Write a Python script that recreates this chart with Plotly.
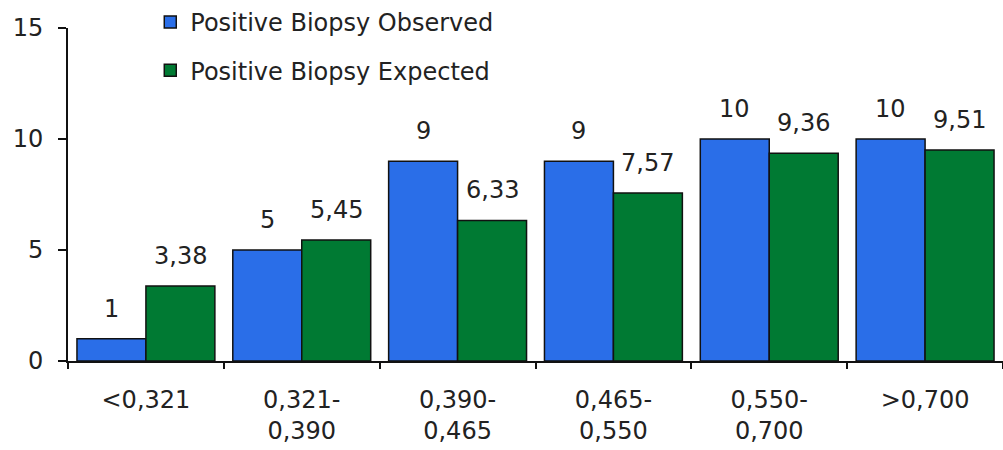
import plotly.graph_objects as go

categories = ["<0,321", "0,321-<br>0,390", "0,390-<br>0,465", "0,465-<br>0,550", "0,550-<br>0,700", ">0,700"]
observed = [1, 5, 9, 9, 10, 10]
expected = [3.38, 5.45, 6.33, 7.57, 9.36, 9.51]
observed_labels = ["1", "5", "9", "9", "10", "10"]
expected_labels = ["3,38", "5,45", "6,33", "7,57", "9,36", "9,51"]
y_ticks = [0, 5, 10, 15]

BLUE = "#2A6EE8"
GREEN = "#007A33"
FONT = "DejaVu Sans"
FS = 24

W, H = 1003, 450
ML, MR, MT, MB = 68, 0, 26, 89
BARGAP = 0.115

fig = go.Figure()
fig.add_trace(go.Bar(x=categories, y=observed, name="Positive Biopsy Observed",
                     marker=dict(color=BLUE, line=dict(color="#111", width=1.5)),
                     legendgroup="a"))
fig.add_trace(go.Bar(x=categories, y=expected, name="Positive Biopsy Expected",
                     marker=dict(color=GREEN, line=dict(color="#111", width=1.5)),
                     legendgroup="b"))

# data labels above bars
cat_px = (W - ML - MR) / len(categories)
bar_px = cat_px * (1 - BARGAP) / 2
for vals, labs, sgn in [(observed, observed_labels, -1), (expected, expected_labels, 1)]:
    for c, v, t in zip(categories, vals, labs):
        fig.add_annotation(x=c, y=v, text=t, showarrow=False, xref="x", yref="y",
                           xanchor="center", yanchor="bottom",
                           xshift=sgn * bar_px / 2, yshift=14,
                           font=dict(family=FONT, size=FS, color="#222"))

fig.update_layout(
    width=W, height=H,
    margin=dict(l=ML, r=MR, t=MT, b=MB),
    paper_bgcolor="white", plot_bgcolor="white",
    barmode="group", bargap=BARGAP, bargroupgap=0,
    font=dict(family=FONT, size=FS, color="#222"),
    legend=dict(x=0.088, y=1.085, xanchor="left", yanchor="top",
                traceorder="grouped", tracegroupgap=14,
                bgcolor="rgba(0,0,0,0)", font=dict(family=FONT, size=FS, color="#222")),
    showlegend=True,
)
fig.update_xaxes(showline=True, linecolor="#111", linewidth=2, ticks="outside",
                 tickson="boundaries", ticklen=6, tickwidth=2, tickcolor="#111",
                 showgrid=False, tickfont=dict(family=FONT, size=FS, color="#222"),
                 ticklabelstandoff=16)
fig.update_yaxes(range=[0, 15], tickvals=y_ticks, showline=True, linecolor="#111", linewidth=2,
                 ticks="outside", ticklen=8, tickwidth=2, tickcolor="#111",
                 showgrid=False, zeroline=False,
                 tickfont=dict(family=FONT, size=FS, color="#222"), ticklabelstandoff=10)

fig.write_html("out.html")
